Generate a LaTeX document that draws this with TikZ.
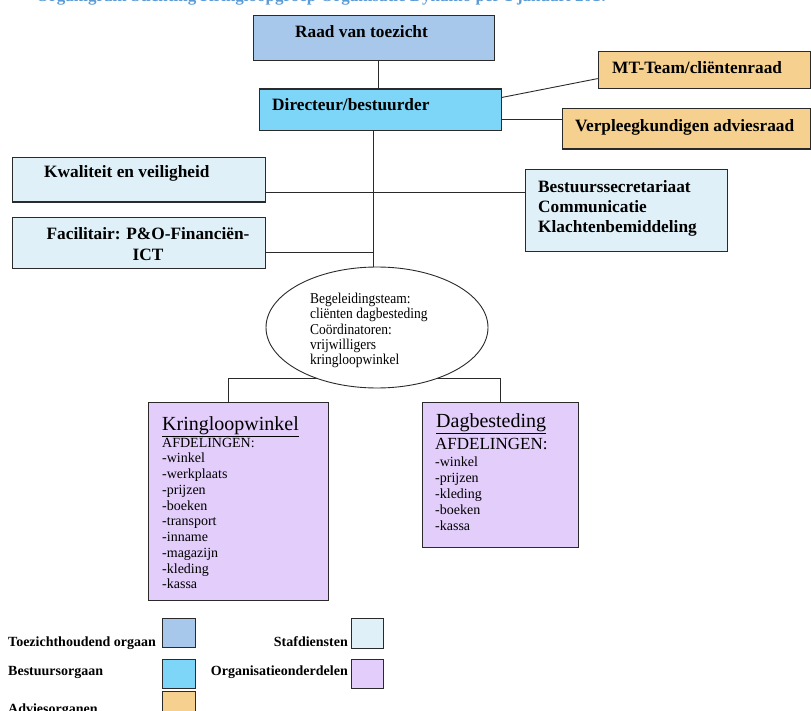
\documentclass[tikz,border=0pt]{standalone}
\usepackage{fontspec}
\setmainfont{Liberation Serif}
\newfontfamily\narrowserif[FakeStretch=0.9]{Liberation Serif}
\usetikzlibrary{shapes.geometric}
\definecolor{cRaad}{HTML}{A7C8EB}
\definecolor{cDir}{HTML}{7DD6F7}
\definecolor{cAdv}{HTML}{F5D08E}
\definecolor{cStaf}{HTML}{DFF0F8}
\definecolor{cOrg}{HTML}{E3CDFB}
\definecolor{cTitle}{HTML}{5B9BD5}
\definecolor{cLine}{HTML}{2A2A2A}
\tikzset{
  box/.style={draw=cLine, line width=1.1pt, inner sep=0pt, anchor=north west},
  lbl/.style={font=\fontsize{17.3}{20.5}\selectfont\bfseries, inner sep=0pt, anchor=base west},
  conn/.style={draw=cLine, line width=0.9pt},
  leg/.style={font=\fontsize{14}{16}\selectfont\bfseries, inner sep=0pt},
  legbox/.style={draw=cLine, line width=1.1pt, inner sep=0pt, anchor=north west, minimum width=33pt, minimum height=29pt},
  small/.style={inner sep=0pt, anchor=base west, align=left},
}
\begin{document}
\begin{tikzpicture}[x=1pt,y=-1pt]
\useasboundingbox (0,0) rectangle (811,711);
% title (cut off at the top)
\node[anchor=base west, inner sep=0pt, text=cTitle, font=\fontsize{17}{19}\selectfont\bfseries] (title) at (36,1.3) {Organigram Stichting Kringloopgroep Organisatie Dynamo per 1 januari 2017};
% boxes
\node[box, fill=cRaad, minimum width=241pt, minimum height=45pt] (raad) at (252.7,15) {};
\node[lbl] (raadT) at (295,38) {Raad van toezicht};
\node[box, fill=cDir, minimum width=241.5pt, minimum height=41.5pt] (dir) at (259,88.5) {};
\node[lbl] (dirT) at (272,111) {Directeur/bestuurder};
\node[box, fill=cAdv, minimum width=212pt, minimum height=37.5pt] (mt) at (597.7,50.7) {};
\node[lbl] (mtT) at (612,74) {MT-Team/cliëntenraad};
\node[box, fill=cAdv, minimum width=248pt, minimum height=40.5pt] (verp) at (562,108) {};
\node[lbl] (verpT) at (575,132) {Verpleegkundigen adviesraad};
\node[box, fill=cStaf, minimum width=253pt, minimum height=44.5pt] (kwal) at (12,157) {};
\node[lbl] (kwalT) at (44,178) {Kwaliteit en veiligheid};
\node[box, fill=cStaf, minimum width=253pt, minimum height=51pt] (fac) at (12,217) {};
% multi-line nodes: base anchor = baseline of the last line
\node[lbl, anchor=base, align=center] (facT) at (148,260.5) {Facilitair: P\&O-Financiën-\\ICT};
\node[box, fill=cStaf, minimum width=202pt, minimum height=82pt] (best) at (525,169) {};
\node[lbl, align=left, font=\fontsize{17.3}{20}\selectfont\bfseries] (bestT) at (538,233) {Bestuurssecretariaat\\Communicatie\\Klachtenbemiddeling};
\node[box, fill=cOrg, minimum width=180pt, minimum height=198pt] (kring) at (148,402) {};
\node[box, fill=cOrg, minimum width=156pt, minimum height=145pt] (dag) at (422,402) {};
% connectors
\coordinate (rdX) at (378,0);
\coordinate (spX) at (373,0);
\coordinate (brL) at (228,378);
\coordinate (brR) at (500.5,378);
\draw[conn] (raad.south -| rdX) -- (dir.north -| rdX);
\draw[conn] ([yshift=12.3pt]dir.east) -- ([yshift=-8.6pt]mt.west);
\draw[conn] ([yshift=-9.7pt]dir.east) coordinate (d2) -- (d2 -| verp.west);
\draw[conn] ([yshift=-13pt]kwal.east) coordinate (k2) -- (k2 -| best.west);
\draw[conn] ([yshift=-9pt]fac.east) coordinate (f2) -- (f2 -| spX);
\draw[conn] (kring.north -| brL) -- (brL) -- (brR) -- (dag.north -| brR);
% ellipse
\node[draw=cLine, line width=0.9pt, fill=white, ellipse, inner sep=0pt, minimum width=222pt, minimum height=121pt] (ell) at (377,327.5) {};
\draw[conn] (dir.south -| spX) -- (spX |- ell.north);
\node[small, font=\narrowserif\fontsize{15}{15.4}\selectfont] (ellT) at (310,364.9) {Begeleidingsteam:\\cliënten dagbesteding\\Coördinatoren:\\vrijwilligers\\kringloopwinkel};
% Kringloopwinkel content
\node[small, font=\fontsize{20}{22}\selectfont] (kringT) at (162,430) {\underline{Kringloopwinkel}};
\node[small, font=\fontsize{14}{15.75}\selectfont] (kringL) at (162,588.75) {AFDELINGEN:\\-winkel\\-werkplaats\\-prijzen\\-boeken\\-transport\\-inname\\-magazijn\\-kleding\\-kassa};
% Dagbesteding content
\node[small, font=\fontsize{20}{22}\selectfont] (dagT) at (436,427) {\underline{Dagbesteding}};
\node[small, font=\fontsize{17}{19}\selectfont] (dagA) at (435,449) {AFDELINGEN:};
\node[small, font=\fontsize{14}{16}\selectfont] (dagL) at (435,530) {-winkel\\-prijzen\\-kleding\\-boeken\\-kassa};
% legend
\node[leg, anchor=base west] (l1) at (8,646) {Toezichthoudend orgaan};
\node[legbox, fill=cRaad] (b1) at (162,618) {};
\node[leg, anchor=base west] (l2) at (8,675) {Bestuursorgaan};
\node[legbox, fill=cDir] (b2) at (162,659) {};
\node[leg, anchor=base west] (l3) at (8,713) {Adviesorganen};
\node[legbox, fill=cAdv] (b3) at (162,691) {};
\node[leg, anchor=base east] (l4) at (348,646) {Stafdiensten};
\node[legbox, fill=cStaf, minimum width=32pt, minimum height=30pt] (b4) at (351,618) {};
\node[leg, anchor=base east] (l5) at (348,675) {Organisatieonderdelen};
\node[legbox, fill=cOrg, minimum width=32pt, minimum height=29pt] (b5) at (351,659) {};
\end{tikzpicture}
\end{document}
